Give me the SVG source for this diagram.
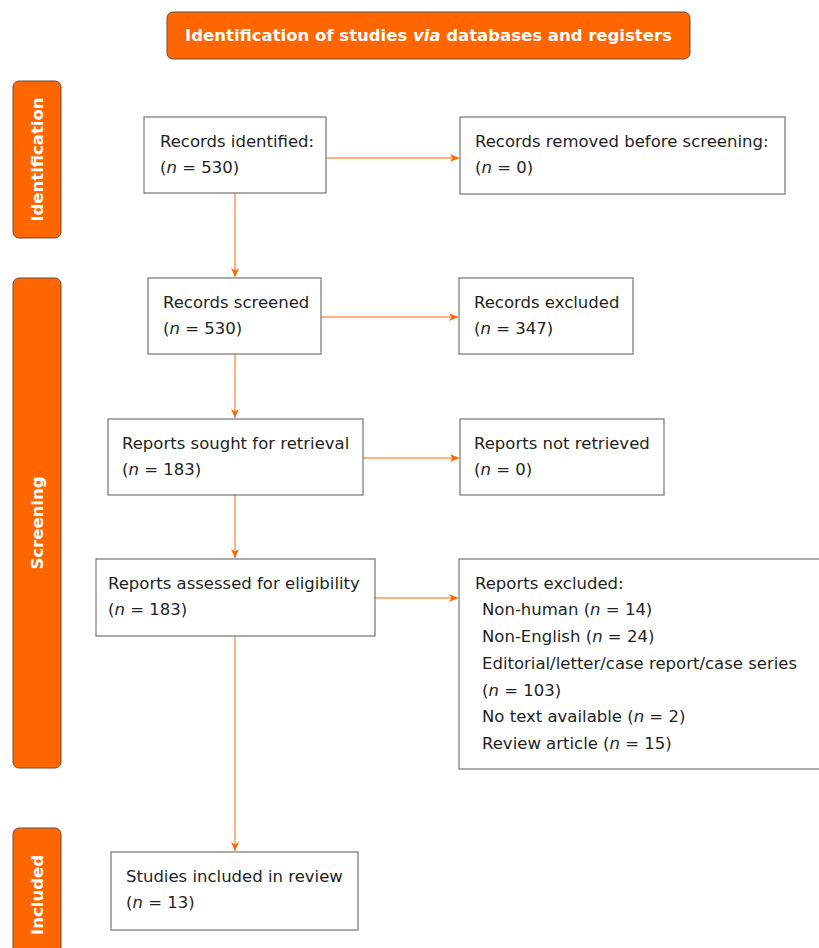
<svg xmlns="http://www.w3.org/2000/svg" width="819" height="948" viewBox="0 0 819 948">
<defs>
<style>
.box{fill:#fff;stroke:#7f7f7f;stroke-width:1.3}
.band{fill:#ff6600;stroke:#6b4a3a;stroke-width:1}
.t{font-family:"DejaVu Sans",Verdana,sans-serif;font-size:16.5px;fill:#231f20}
.bt{font-family:"DejaVu Sans",Verdana,sans-serif;font-size:16.5px;font-weight:bold;fill:#fff}
.conn{stroke:#ff9a5c;stroke-width:1.5;fill:none;marker-end:url(#ah)}
</style>
<marker id="ah" markerWidth="10" markerHeight="10" refX="9" refY="5" orient="auto" markerUnits="userSpaceOnUse">
<path d="M0,1 L9,5 L0,9 L2.5,5 Z" fill="#ff6600"/>
</marker>
</defs>
<rect width="819" height="948" fill="#fff"/>
<g id="header">
<rect class="band" x="167" y="12" width="523" height="47" rx="6"/>
<text class="bt" x="428.5" y="41" text-anchor="middle">Identification of studies <tspan font-style="italic">via</tspan> databases and registers</text>
</g>
<g id="band-identification">
<rect class="band" x="13" y="81" width="48" height="157" rx="6"/>
<text class="bt" transform="translate(43,159.5) rotate(-90)" text-anchor="middle">Identification</text>
</g>
<g id="band-screening">
<rect class="band" x="13" y="278" width="48" height="490" rx="6"/>
<text class="bt" transform="translate(43,523) rotate(-90)" text-anchor="middle">Screening</text>
</g>
<g id="band-included">
<rect class="band" x="13" y="828" width="48" height="135" rx="6"/>
<text class="bt" transform="translate(43,895) rotate(-90)" text-anchor="middle">Included</text>
</g>
<g id="connectors">
<line class="conn" x1="326" y1="158" x2="459" y2="158"/>
<line class="conn" x1="235" y1="193" x2="235" y2="277"/>
<line class="conn" x1="321" y1="317" x2="458" y2="317"/>
<line class="conn" x1="235" y1="354" x2="235" y2="418"/>
<line class="conn" x1="363" y1="458" x2="459" y2="458"/>
<line class="conn" x1="235" y1="495" x2="235" y2="558"/>
<line class="conn" x1="375" y1="598" x2="458" y2="598"/>
<line class="conn" x1="235" y1="636" x2="235" y2="851"/>
</g>
<g id="n1">
<rect class="box" x="144" y="117" width="182" height="76"/>
<text class="t" x="160" y="147">Records identified:</text>
<text class="t" x="160" y="173">(<tspan font-style="italic">n</tspan> = 530)</text>
</g>
<g id="n2">
<rect class="box" x="460" y="117" width="325" height="77"/>
<text class="t" x="475" y="147">Records removed before screening:</text>
<text class="t" x="475" y="173">(<tspan font-style="italic">n</tspan> = 0)</text>
</g>
<g id="n3">
<rect class="box" x="148" y="278" width="173" height="76"/>
<text class="t" x="163" y="308">Records screened</text>
<text class="t" x="163" y="334">(<tspan font-style="italic">n</tspan> = 530)</text>
</g>
<g id="n4">
<rect class="box" x="459" y="278" width="174" height="76"/>
<text class="t" x="474" y="308">Records excluded</text>
<text class="t" x="474" y="334">(<tspan font-style="italic">n</tspan> = 347)</text>
</g>
<g id="n5">
<rect class="box" x="108" y="419" width="255" height="76"/>
<text class="t" x="122" y="449">Reports sought for retrieval</text>
<text class="t" x="122" y="475">(<tspan font-style="italic">n</tspan> = 183)</text>
</g>
<g id="n6">
<rect class="box" x="460" y="419" width="204" height="76"/>
<text class="t" x="474" y="449">Reports not retrieved</text>
<text class="t" x="474" y="475">(<tspan font-style="italic">n</tspan> = 0)</text>
</g>
<g id="n7">
<rect class="box" x="96" y="559" width="279" height="77"/>
<text class="t" x="108" y="589">Reports assessed for eligibility</text>
<text class="t" x="108" y="615">(<tspan font-style="italic">n</tspan> = 183)</text>
</g>
<g id="n8">
<rect class="box" x="459" y="559" width="370" height="210"/>
<text class="t" x="475" y="589">Reports excluded:</text>
<text class="t" x="482" y="615">Non-human (<tspan font-style="italic">n</tspan> = 14)</text>
<text class="t" x="482" y="642">Non-English (<tspan font-style="italic">n</tspan> = 24)</text>
<text class="t" x="482" y="669">Editorial/letter/case report/case series</text>
<text class="t" x="482" y="696">(<tspan font-style="italic">n</tspan> = 103)</text>
<text class="t" x="482" y="722">No text available (<tspan font-style="italic">n</tspan> = 2)</text>
<text class="t" x="482" y="749">Review article (<tspan font-style="italic">n</tspan> = 15)</text>
</g>
<g id="n9">
<rect class="box" x="111" y="852" width="247" height="78"/>
<text class="t" x="126" y="882">Studies included in review</text>
<text class="t" x="126" y="908">(<tspan font-style="italic">n</tspan> = 13)</text>
</g>
</svg>
